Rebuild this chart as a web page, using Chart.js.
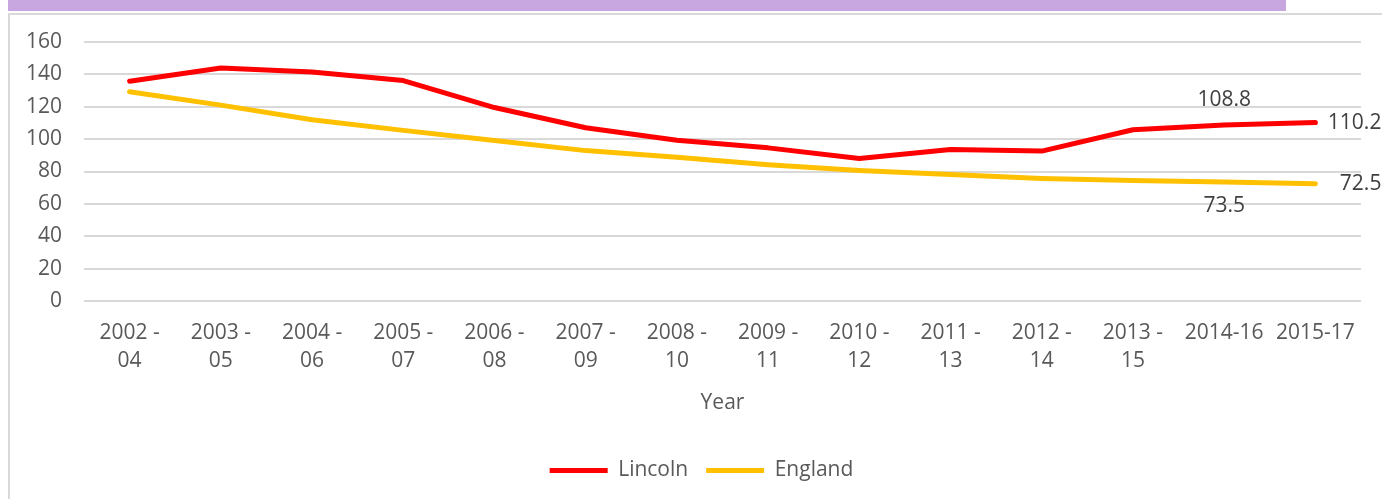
<!DOCTYPE html>
<html>
<head>
<meta charset="utf-8">
<script src="https://cdn.jsdelivr.net/npm/chart.js@4.4.1/dist/chart.umd.min.js"></script>
<style>
  html, body { margin: 0; padding: 0; background: #ffffff; overflow: hidden; }
  #page { position: relative; width: 1382px; height: 499px; }
  #band { position: absolute; left: 8px; top: 0; width: 1278px; height: 11px; background: #c8a6e0; }
  #frame { position: absolute; left: 8px; top: 13px; width: 1400px; height: 520px;
           border-left: 2px solid #d9d9d9; border-top: 2px solid #d9d9d9; }
  #rateChart { position: absolute; left: 0; top: 0; }
</style>
</head>
<body>
<div id="page">
  <div id="band"></div>
  <div id="frame"></div>
  <canvas id="rateChart" width="1382" height="499"></canvas>
</div>
<script>
// ----------------- Datos -----------------

const years = [
  ['2002 -', '04'], ['2003 -', '05'], ['2004 -', '06'], ['2005 -', '07'],
  ['2006 -', '08'], ['2007 -', '09'], ['2008 -', '10'], ['2009 -', '11'],
  ['2010 -', '12'], ['2011 -', '13'], ['2012 -', '14'], ['2013 -', '15'],
  '2014-16', '2015-17'
];

const lincoln = [135.8, 143.9, 141.4, 136.2, 119.5, 107.0, 99.3, 94.6, 88.0, 93.6, 92.6, 105.8, 108.8, 110.2];
const england = [129.3, 121.0, 112.0, 105.4, 99.2, 92.9, 88.8, 84.2, 80.6, 78.1, 75.7, 74.4, 73.5, 72.5];

const yTicks = [0, 20, 40, 60, 80, 100, 120, 140, 160];

// etiquetas de valor: serie, índice, posición
const valueLabels = [
  { series: 0, index: 12, pos: 'above' },
  { series: 0, index: 13, pos: 'right' },
  { series: 1, index: 12, pos: 'below' },
  { series: 1, index: 13, pos: 'right' }
];

// ----------------- Estilo -----------------

const FONT = "'Open Sans', 'Liberation Sans', sans-serif";
const textColor = '#595959';

const palette = {
  red: '#ff0000',
  gold: '#ffc000',
  grid: '#d9d9d9',
  label: '#404040'
};

// ----------------- Plugins -----------------

const valueLabelPlugin = {
  id: 'valueLabels',
  afterDatasetsDraw(chart) {
    const ctx = chart.ctx;
    ctx.save();
    ctx.font = `21px ${FONT}`;
    ctx.fillStyle = palette.label;
    ctx.textBaseline = 'middle';
    valueLabels.forEach(l => {
      const point = chart.getDatasetMeta(l.series).data[l.index];
      const value = chart.data.datasets[l.series].data[l.index];
      const text = value.toFixed(1);
      if (l.pos === 'above') {
        ctx.textAlign = 'center';
        ctx.fillText(text, point.x, point.y - 25);
      } else if (l.pos === 'below') {
        ctx.textAlign = 'center';
        ctx.fillText(text, point.x, point.y + 24);
      } else {
        ctx.textAlign = 'right';
        ctx.fillText(text, point.x + 66, point.y);
      }
    });
    ctx.restore();
  }
};

// centra la leyenda sobre el área del gráfico y no sobre todo el canvas
const legendShiftPlugin = {
  id: 'legendShift',
  afterLayout(chart) {
    if (chart.legend) {
      chart.legend.left += 42;
    }
  }
};

// ----------------- Gráfico -----------------

function drawChart() {
  const ctx = document.getElementById('rateChart').getContext('2d');

  new Chart(ctx, {
    type: 'line',
    data: {
      labels: years,
      datasets: [
        {
          label: 'Lincoln',
          data: lincoln,
          borderColor: palette.red,
          backgroundColor: palette.red,
          borderWidth: 5,
          borderCapStyle: 'round',
          borderJoinStyle: 'round',
          pointRadius: 0,
          tension: 0
        },
        {
          label: 'England',
          data: england,
          borderColor: palette.gold,
          backgroundColor: palette.gold,
          borderWidth: 5,
          borderCapStyle: 'round',
          borderJoinStyle: 'round',
          pointRadius: 0,
          tension: 0
        }
      ]
    },
    options: {
      responsive: false,
      animation: false,
      layout: {
        padding: { top: 42, right: 21, bottom: 8, left: 0 }
      },
      plugins: {
        legend: {
          position: 'bottom',
          labels: {
            usePointStyle: true,
            pointStyle: 'line',
            pointStyleWidth: 58,
            padding: 18,
            color: textColor,
            font: { family: FONT, size: 21 }
          }
        },
        tooltip: { enabled: false }
      },
      scales: {
        x: {
          offset: true,
          grid: { display: false, drawTicks: false },
          border: { display: false },
          ticks: {
            color: textColor,
            padding: 18,
            maxRotation: 0,
            autoSkip: false,
            font: { family: FONT, size: 21, lineHeight: '28px' }
          },
          title: {
            display: true,
            text: 'Year',
            color: textColor,
            font: { family: FONT, size: 21 },
            padding: { top: 0, bottom: 26 }
          },
          afterFit: (scale) => { scale.height = 141; }
        },
        y: {
          min: yTicks[0],
          max: yTicks[yTicks.length - 1],
          afterBuildTicks: (scale) => { scale.ticks = yTicks.map(v => ({ value: v })); },
          grid: { color: palette.grid, lineWidth: 2, drawTicks: false },
          border: { display: false },
          ticks: {
            color: textColor,
            padding: 22,
            font: { family: FONT, size: 21 }
          },
          afterFit: (scale) => { scale.width = 84; }
        }
      }
    },
    plugins: [valueLabelPlugin, legendShiftPlugin]
  });
}

document.addEventListener('DOMContentLoaded', drawChart);
</script>
</body>
</html>
